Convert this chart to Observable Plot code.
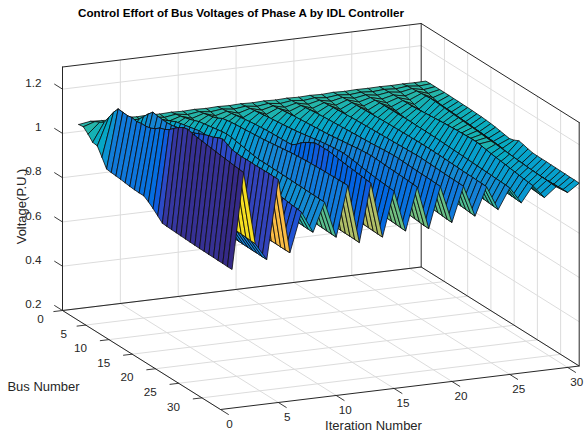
<!DOCTYPE html>
<html><head><meta charset="utf-8">
<script src="https://cdn.jsdelivr.net/npm/d3@7"></script>
<script src="https://cdn.jsdelivr.net/npm/@observablehq/plot@0.6"></script>
<style>html,body{margin:0;padding:0;background:#fff}svg{display:block}</style>
</head><body><div id="chart"></div>
<script>
const titleText="Control Effort of Bus Voltages of Phase A by IDL Controller";
const iterTicks=[0,5,10,15,20,25,30];
const busTicks=[0,5,10,15,20,25,30];
const voltTicks=[0.2,0.4,0.6,0.8,1,1.2];
const iterMax=31,busMax=34,voltMin=0.2,voltMax=1.3;
const voltage=[
[1.047,1.05,1.03,1.006,1.003,.965,.925,.922,.92,.918,.915,.912,.91,.909,.909,.895,.878,.858,.838,.836,.835,.834,.833,.832,.831,.83,.829,.829,.828,.828,.827,.827,.826,.826],
[1.055,1.067,1.077,1.09,1.126,1.162,1.19,1.188,1.186,1.19,1.185,1.19,1.19,1.195,1.206,1.222,1.229,1.241,1.26,1.277,1.29,1.295,1.288,1.285,1.282,1.279,1.276,1.273,1.27,1.268,1.265,1.262,1.26,1.257],
[1.052,1.05,1.045,1.03,1.02,1.01,1.005,1.0,.995,.99,.985,.98,.975,.97,.965,.96,.958,.955,.952,.95,.948,.946,.945,.943,.942,.94,.939,.938,.936,.935,.934,.933,.931,.93],
[1.05,1.04,1.02,1.0,.975,.95,.94,.94,.938,.936,.934,.932,.93,.925,.885,.872,.868,.866,.864,.862,.861,.86,.859,.858,.857,.856,.856,.855,.854,.854,.853,.853,.852,.852],
[1.054,1.06,1.07,1.085,1.11,1.135,1.156,1.152,1.15,1.148,1.15,1.155,1.16,1.165,1.172,1.18,1.19,1.2,1.208,1.214,1.225,1.232,1.222,1.211,1.208,1.206,1.207,1.207,1.206,1.207,1.207,1.208,1.207,1.207],
[1.05,1.047,1.04,1.03,1.015,1.0,.985,.975,.965,.955,.945,.935,.925,.915,.905,.895,.888,.884,.881,.879,.877,.876,.875,.874,.874,.873,.873,.872,.872,.871,.871,.87,.87,.87],
[1.052,1.056,1.062,1.07,1.08,1.09,1.1,1.105,1.11,1.115,1.12,1.125,1.125,1.12,1.115,1.11,1.105,1.1,1.095,1.09,1.085,1.08,1.078,1.075,1.07,1.066,1.063,1.062,1.061,1.058,1.055,1.052,1.05,1.047],
[1.05,1.048,1.044,1.038,1.03,1.022,1.015,1.01,1.005,1.0,.996,.992,.988,.984,.98,.978,.975,.972,.97,.968,.966,.964,.962,.96,.958,.957,.956,.955,.954,.953,.952,.951,.95,.95],
[1.052,1.056,1.06,1.066,1.072,1.08,1.088,1.092,1.096,1.1,1.104,1.108,1.11,1.108,1.104,1.1,1.096,1.092,1.088,1.086,1.086,1.086,1.085,1.085,1.084,1.084,1.083,1.082,1.082,1.081,1.08,1.08,1.079,1.079],
[1.05,1.048,1.044,1.038,1.03,1.02,1.01,1.003,.996,.99,.984,.978,.972,.966,.96,.955,.95,.945,.94,.937,.934,.932,.93,.928,.926,.925,.923,.922,.92,.919,.918,.917,.916,.915],
[1.052,1.055,1.06,1.065,1.07,1.078,1.09,1.094,1.098,1.1,1.102,1.104,1.106,1.108,1.11,1.112,1.115,1.118,1.121,1.124,1.127,1.13,1.132,1.134,1.136,1.137,1.138,1.139,1.14,1.14,1.141,1.141,1.142,1.142],
[1.05,1.048,1.043,1.036,1.028,1.018,1.006,.998,.99,.982,.975,.968,.96,.95,.935,.92,.905,.888,.882,.88,.88,.879,.879,.878,.88,.884,.885,.884,.882,.881,.88,.88,.879,.878],
[1.052,1.054,1.057,1.06,1.064,1.068,1.072,1.075,1.078,1.08,1.082,1.084,1.085,1.086,1.087,1.088,1.09,1.105,1.125,1.14,1.152,1.163,1.165,1.165,1.165,1.162,1.158,1.155,1.152,1.15,1.147,1.145,1.142,1.14],
[1.05,1.047,1.042,1.035,1.026,1.016,1.005,.997,.99,.983,.976,.969,.962,.955,.948,.941,.934,.927,.92,.915,.911,.908,.905,.903,.901,.899,.897,.896,.895,.894,.893,.892,.891,.89],
[1.052,1.054,1.057,1.06,1.063,1.066,1.07,1.072,1.075,1.077,1.08,1.083,1.086,1.09,1.094,1.098,1.102,1.106,1.11,1.113,1.116,1.118,1.12,1.118,1.115,1.112,1.108,1.105,1.102,1.099,1.097,1.095,1.093,1.091],
[1.05,1.047,1.043,1.037,1.03,1.02,1.01,1.002,.995,.988,.982,.976,.97,.964,.958,.952,.947,.942,.937,.932,.928,.925,.922,.92,.918,.916,.914,.912,.911,.91,.909,.908,.906,.905],
[1.052,1.054,1.056,1.059,1.062,1.065,1.068,1.07,1.072,1.074,1.076,1.078,1.08,1.082,1.084,1.087,1.09,1.093,1.096,1.099,1.102,1.105,1.107,1.108,1.108,1.107,1.105,1.104,1.103,1.102,1.101,1.1,1.098,1.097],
[1.05,1.047,1.043,1.038,1.031,1.023,1.014,1.007,1.0,.994,.988,.982,.976,.97,.964,.958,.953,.948,.943,.938,.934,.93,.927,.924,.921,.918,.916,.914,.912,.91,.908,.906,.904,.903],
[1.052,1.054,1.056,1.058,1.061,1.064,1.067,1.069,1.071,1.073,1.074,1.076,1.077,1.079,1.08,1.082,1.083,1.085,1.086,1.088,1.09,1.092,1.094,1.095,1.095,1.094,1.093,1.092,1.091,1.09,1.09,1.089,1.088,1.087],
[1.05,1.048,1.044,1.039,1.033,1.026,1.018,1.012,1.006,1.0,.995,.99,.985,.98,.975,.97,.965,.961,.957,.953,.949,.946,.943,.94,.937,.934,.931,.929,.927,.925,.923,.921,.919,.918],
[1.052,1.054,1.056,1.058,1.06,1.062,1.064,1.066,1.067,1.069,1.07,1.071,1.072,1.073,1.074,1.075,1.076,1.077,1.078,1.079,1.08,1.081,1.082,1.083,1.083,1.082,1.081,1.08,1.079,1.078,1.077,1.077,1.076,1.075],
[1.05,1.048,1.045,1.04,1.035,1.029,1.022,1.017,1.012,1.007,1.002,.998,.994,.99,.986,.982,.978,.974,.97,.967,.964,.961,.958,.955,.952,.95,.948,.946,.944,.942,.94,.938,.936,.934],
[1.053,1.054,1.056,1.058,1.059,1.06,1.061,1.062,1.063,1.064,1.065,1.066,1.067,1.067,1.068,1.068,1.069,1.069,1.07,1.07,1.07,1.07,1.069,1.069,1.068,1.067,1.066,1.065,1.064,1.063,1.063,1.062,1.061,1.06],
[1.051,1.049,1.046,1.042,1.037,1.032,1.026,1.022,1.018,1.014,1.01,1.006,1.002,.998,.995,.992,.989,.986,.983,.98,.977,.975,.973,.971,.969,.967,.965,.963,.961,.959,.957,.955,.953,.951],
[1.053,1.054,1.055,1.056,1.057,1.058,1.059,1.059,1.06,1.06,1.061,1.061,1.061,1.06,1.06,1.06,1.059,1.059,1.058,1.057,1.056,1.055,1.054,1.053,1.052,1.051,1.05,1.049,1.048,1.047,1.046,1.045,1.044,1.042],
[1.052,1.05,1.047,1.043,1.039,1.034,1.03,1.026,1.022,1.019,1.015,1.012,1.009,1.006,1.003,1.0,.998,.996,.994,.992,.99,.988,.986,.984,.982,.98,.978,.977,.976,.974,.973,.972,.97,.969],
[1.053,1.054,1.055,1.055,1.056,1.056,1.057,1.057,1.059,1.061,1.063,1.065,1.067,1.069,1.071,1.072,1.074,1.075,1.076,1.077,1.078,1.077,1.074,1.07,1.066,1.063,1.06,1.057,1.054,1.051,1.048,1.045,1.042,1.04],
[1.052,1.05,1.048,1.044,1.04,1.032,1.024,1.018,1.02,1.022,1.024,1.026,1.028,1.03,1.032,1.033,1.035,1.036,1.037,1.038,1.02,1.012,1.006,1.0,.996,.993,.99,.988,.986,.985,.984,.983,.981,.98],
[1.053,1.056,1.058,1.06,1.062,1.064,1.066,1.065,1.064,1.062,1.061,1.059,1.058,1.056,1.054,1.053,1.051,1.049,1.047,1.045,1.044,1.042,1.04,1.038,1.036,1.034,1.032,1.03,1.029,1.027,1.026,1.025,1.023,1.022],
[1.052,1.05,1.047,1.043,1.037,1.031,1.027,1.026,1.025,1.023,1.022,1.02,1.019,1.017,1.015,1.014,1.012,1.01,1.008,1.006,.995,.993,.991,.989,.987,.986,.985,.985,.986,.987,.988,.989,.99,.99],
[1.053,1.054,1.054,1.054,1.054,1.054,1.053,1.053,1.052,1.052,1.051,1.05,1.049,1.047,1.045,1.042,1.038,1.034,1.03,1.036,1.047,1.042,1.036,1.031,1.03,1.03,1.03,1.029,1.029,1.028,1.028,1.027,1.027,1.026]
];
const parula=[[.2081,.1663,.5292],[.2116,.1898,.5777],[.2123,.2138,.627],[.2081,.2386,.6771],[.1959,.2645,.7279],[.1707,.2919,.7792],[.1253,.3242,.8303],[.0591,.3598,.8683],[.0117,.3875,.882],[.006,.4086,.8828],[.0165,.4266,.8786],[.0329,.443,.872],[.0498,.4586,.8641],[.0629,.4737,.8554],[.0723,.4887,.8467],[.0779,.504,.8384],[.0793,.52,.8312],[.0749,.5375,.8263],[.0641,.557,.824],[.0488,.5772,.8228],[.0343,.5966,.8199],[.0265,.6137,.8135],[.0239,.6287,.8038],[.0231,.6418,.7913],[.0228,.6535,.7768],[.0267,.6642,.7607],[.0384,.6743,.7436],[.059,.6838,.7254],[.0843,.6928,.7062],[.1133,.7015,.6859],[.1453,.7098,.6646],[.1801,.7177,.6424],[.2178,.725,.6193],[.2586,.7317,.5954],[.3022,.7376,.5712],[.3482,.7424,.5473],[.3953,.7459,.5244],[.442,.7481,.5033],[.4871,.7491,.484],[.53,.7491,.4661],[.5709,.7485,.4494],[.6099,.7473,.4337],[.6473,.7456,.4188],[.6834,.7435,.4044],[.7184,.7411,.3905],[.7525,.7384,.3768],[.7858,.7356,.3633],[.8185,.7327,.3498],[.8507,.7299,.336],[.8824,.7274,.3217],[.9139,.7258,.3063],[.945,.7261,.2886],[.9739,.7314,.2666],[.9938,.7455,.2403],[.999,.7653,.2164],[.9955,.7861,.1967],[.988,.8066,.1794],[.9789,.8271,.1633],[.9697,.8481,.1475],[.9626,.8705,.1309],[.9589,.8949,.1132],[.9598,.9218,.0948],[.9661,.9514,.0755],[.9763,.9831,.0538]];
const parulaCss=parula.map(c=>d3.rgb(c[0]*255,c[1]*255,c[2]*255).formatRgb());

// orthographic view of the box: pixel position of the origin and per-unit axis vectors
const view={x0:62,y0:310,xx:358.7/iterMax,xy:-43.5/iterMax,yx:158/busMax,yy:99/busMax,zy:243.5/(voltMax-voltMin)};
const proj=(x,y,z)=>({px:view.x0+x*view.xx+y*view.yx,py:view.y0+x*view.xy+y*view.yy-(z-voltMin)*view.zy});

const seg=(list)=>list.flatMap((s,k)=>s.map(p=>({...proj(...p),k})));
const gridLines=[];
for(const t of iterTicks){ if(t>0){gridLines.push([[t,0,voltMin],[t,0,voltMax]]);} gridLines.push([[t,0,voltMin],[t,busMax,voltMin]]);}
for(const t of busTicks){ if(t>0){gridLines.push([[iterMax,t,voltMin],[iterMax,t,voltMax]]);} gridLines.push([[0,t,voltMin],[iterMax,t,voltMin]]);}
for(const v of voltTicks){ gridLines.push([[0,0,v],[iterMax,0,v],[iterMax,busMax,v]]);}
const boxLines=[
 [[0,0,voltMax],[iterMax,0,voltMax],[iterMax,busMax,voltMax]],
 [[0,0,voltMin],[0,0,voltMax]],
 [[iterMax,0,voltMin],[iterMax,0,voltMax]],
 [[iterMax,busMax,voltMin],[iterMax,busMax,voltMax]],
 [[0,0,voltMin],[iterMax,0,voltMin],[iterMax,busMax,voltMin],[0,busMax,voltMin],[0,0,voltMin]]
];
const tickLen=1.7;
const tickLines=[
 ...iterTicks.map(t=>[[t,busMax,voltMin],[t,busMax+tickLen,voltMin]]),
 ...busTicks.map(t=>[[0,t,voltMin],[-0.75,t,voltMin]]),
 ...voltTicks.map(v=>[[0,0,v],[0,-tickLen,v]])
];

const faces=[];
let id=0;
for(let i=iterMax-1;i>=1;i--){
  for(let j=1;j<busMax;j++){
    const c=voltage[i-1][j-1];
    const corners=[[i,j],[i+1,j],[i+1,j+1],[i,j+1],[i,j]];
    for(const [a,b] of corners){faces.push({...proj(a,b,voltage[a-1][b-1]),id,c});}
    id++;
  }
}

const iterLabels=iterTicks.map(t=>{const p=proj(t,busMax,voltMin);return {px:p.px+9,py:p.py+15,t:String(t)};});
const busLabels=busTicks.map(t=>{const p=proj(0,t,voltMin);return {px:p.px-(t<10?22:28.5),py:p.py+9,t:String(t)};});
const voltLabels=voltTicks.map(v=>{const p=proj(0,0,v);return {px:p.px-21,py:p.py-6,t:String(v)};});
const axisTitles=[{px:373,py:425,t:"Iteration Number"},{px:43,py:386,t:"Bus Number"}];

const ink="#262626";
const chart=Plot.plot({
  width:584,height:437,margin:0,
  style:{fontFamily:"'Liberation Sans',Arial,sans-serif",background:"#fff"},
  x:{axis:null,type:"linear",domain:[0,584],range:[0,584]},
  y:{axis:null,type:"linear",domain:[0,437],range:[0,437]},
  color:{type:"linear",domain:[0.82,1.295],clamp:true,interpolate:t=>parulaCss[Math.min(63,Math.floor(t*64))]},
  marks:[
    Plot.line(seg(gridLines),{x:"px",y:"py",z:"k",stroke:"#dcdcdc",strokeWidth:1}),
    Plot.line(seg(boxLines),{x:"px",y:"py",z:"k",stroke:ink,strokeWidth:1}),
    Plot.line(seg(tickLines),{x:"px",y:"py",z:"k",stroke:ink,strokeWidth:.9}),
    Plot.line(faces,{x:"px",y:"py",z:"id",fill:"c",stroke:"#0b0b0b",strokeWidth:.8,strokeLinejoin:"round"}),
    Plot.text(iterLabels,{x:"px",y:"py",text:"t",fontSize:11.7,fill:ink}),
    Plot.text(busLabels,{x:"px",y:"py",text:"t",fontSize:11.7,fill:ink}),
    Plot.text(voltLabels,{x:"px",y:"py",text:"t",fontSize:11.7,fill:ink,textAnchor:"end"}),
    Plot.text(axisTitles,{x:"px",y:"py",text:"t",fontSize:13,fill:ink}),
    Plot.text([{px:21,py:206,t:"Voltage(P.U.)"}],{x:"px",y:"py",text:"t",fontSize:13,fill:ink,rotate:-90}),
    Plot.text([{px:240.5,py:13,t:titleText}],{x:"px",y:"py",text:"t",fontSize:11.65,fontWeight:"bold",fill:"#000"})
  ]
});
document.getElementById("chart").append(chart);
</script></body></html>
